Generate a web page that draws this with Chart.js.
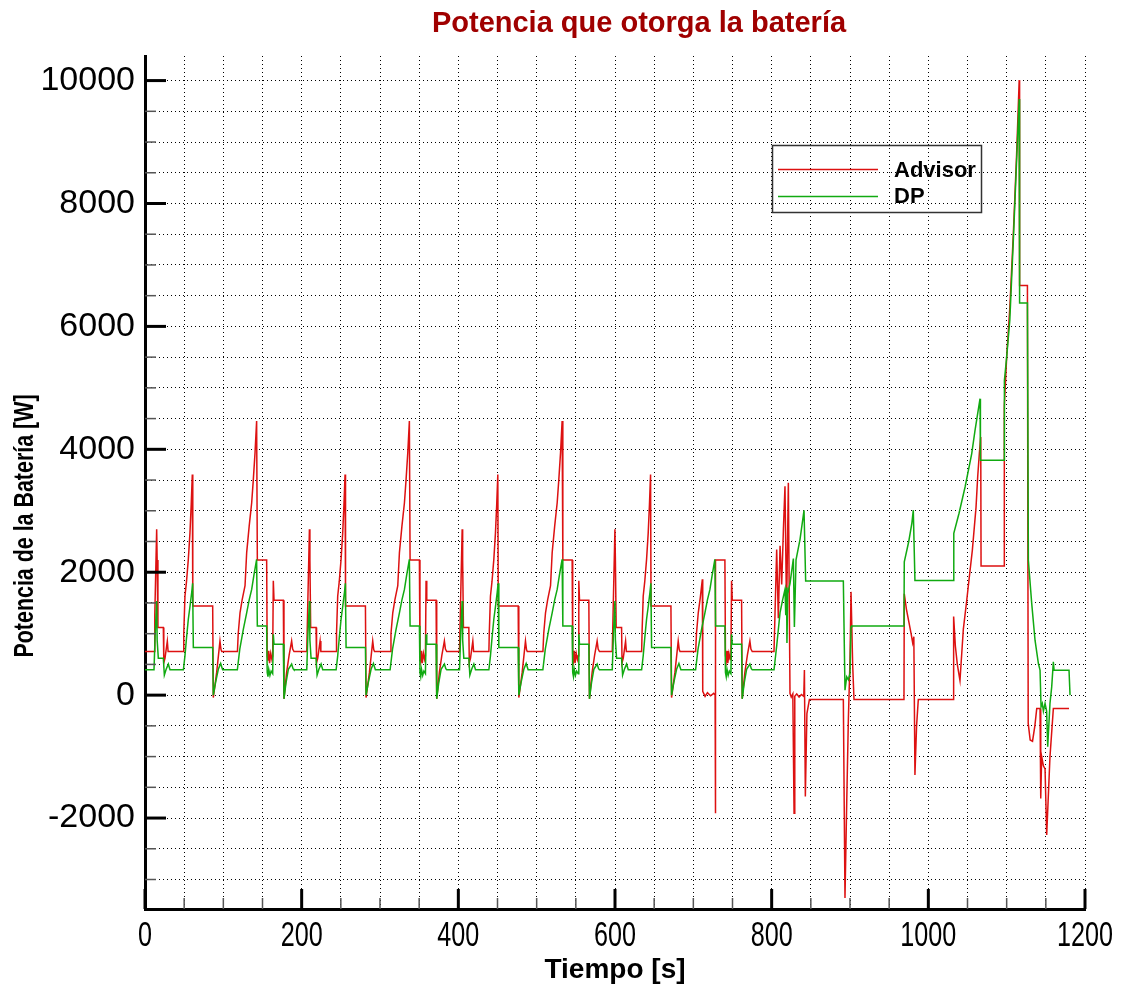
<!DOCTYPE html>
<html>
<head>
<meta charset="utf-8">
<script src="https://cdn.jsdelivr.net/npm/chart.js@4.4.1/dist/chart.umd.min.js"></script>
<style>
  html, body { margin: 0; padding: 0; background: #fff; }
  canvas { display: block; }
</style>
</head>
<body>
<canvas id="chart" width="1127" height="991"></canvas>
<script>
// Series: [tiempo (s), potencia (W)]
const seriesNames = ['Advisor', 'DP'];

const advisor = [
  [0,710],[11.5,710],[12.5,1300],[14.9,2700],[15.5,2200],[16.5,1100],[23.4,1100],[24,530],[25.5,600],[28.5,880],[29.5,710],
  [49,710],[49.5,1000],[51,1610],[53,1850],[55.3,2210],[57.4,2640],[59,3100],[60.4,3590],[61,1450],[86.4,1450],[87.2,-40],
  [91.5,370],[95.7,880],[97,740],[98,710],[118,710],[119,1000],[121.3,1340],[124,1550],[127.7,1780],[129.8,2320],[133,2750],
  [136.2,3130],[138.3,3510],[140.5,3950],[142.5,4460],[143.4,2200],[155.3,2200],[156,650],[157,560],[158,720],[159,520],
  [160.5,680],[162,580],[163,640],[163.8,1860],[164.7,1544],[176.6,1544],[177.4,-60],[180.8,370],[184,650],[187.2,880],
  [188.5,750],[190.2,710],
  [206.5,710],[207.5,1300],[209.9,2700],[210.5,2200],[211.5,1100],[218.4,1100],[219,530],[220.5,600],[223.5,880],[224.5,710],
  [244,710],[244.5,1000],[246,1610],[248,1850],[250.3,2210],[252.4,2640],[254,3100],[255.4,3590],[256,1450],[281.4,1450],
  [282.2,-40],[286.5,370],[290.7,880],[292,740],[293,710],[313,710],[314,1000],[316.3,1340],[319,1550],[322.7,1780],
  [324.8,2320],[328,2750],[331.2,3130],[333.3,3510],[335.5,3950],[337.5,4460],[338.4,2200],[350.3,2200],[351,650],[352,560],
  [353,720],[354,520],[355.5,680],[357,580],[358,640],[358.8,1860],[359.7,1544],[371.6,1544],[372.4,-60],[375.8,370],
  [379,650],[382.2,880],[383.5,750],[385.2,710],
  [401.5,710],[402.5,1300],[404.9,2700],[405.5,2200],[406.5,1100],[413.4,1100],[414,530],[415.5,600],[418.5,880],[419.5,710],
  [439,710],[439.5,1000],[441,1610],[443,1850],[445.3,2210],[447.4,2640],[449,3100],[450.4,3590],[451,1450],[476.4,1450],
  [477.2,-40],[481.5,370],[485.7,880],[487,740],[488,710],[508,710],[509,1000],[511.3,1340],[514,1550],[517.7,1780],
  [519.8,2320],[523,2750],[526.2,3130],[528.3,3510],[530.5,3950],[532.5,4460],[533.4,2200],[545.3,2200],[546,650],[547,560],
  [548,720],[549,520],[550.5,680],[552,580],[553,640],[553.8,1860],[554.7,1544],[566.6,1544],[567.4,-60],[570.8,370],
  [574,650],[577.2,880],[578.5,750],[580.2,710],
  [596.5,710],[597.5,1300],[599.9,2700],[600.5,2200],[601.5,1100],[608.4,1100],[609,530],[610.5,600],[613.5,880],[614.5,710],
  [634,710],[634.5,1000],[636,1610],[638,1850],[640.3,2210],[642.4,2640],[644,3100],[645.4,3590],[646,1450],[671.4,1450],
  [672.2,-40],[676.5,370],[680.7,880],[682,740],[683,710],[703,710],[704,1000],[706.3,1340],[709,1600],[711.5,1885],
  [712,60],[715,-20],[718,40],[722,-10],[726,30],[727.8,0],[728.1,-1920],[728.5,2200],[740.3,2200],[741,650],[742,560],
  [743,720],[744,520],[745.5,680],[747,580],[748,640],[748.8,1860],[749.7,1544],[761.6,1544],[762.4,-60],[765.8,370],
  [769,650],[772.2,880],[773.5,750],[775.2,710],
  [803,710],[804.3,1340],[806.4,2370],[808.5,1250],[810.7,2430],[812.8,1800],[815,2700],[817,3400],[819,1340],[821.3,3455],
  [823.4,30],[825,-30],[827,20],[828.6,-1920],[829.5,-20],[832,20],[835,-30],[838,10],[841,-20],[841.8,410],[843,-1650],
  [845,-300],[848.2,-70],[891.5,-70],[893.6,-3300],[895.8,-1760],[897.9,-400],[900,570],[901.3,1680],[903.4,500],[905.1,-70],
  [968.9,-70],[969.3,1650],[972,1400],[975,1200],[978,1000],[980,850],[981.5,950],[982.9,-1300],[985,-500],[987.2,-70],
  [1031.9,-70],[1032.3,1280],[1034.5,800],[1037,500],[1040.4,240],[1044.7,1075],[1049,1540],[1052.4,1930],[1056.2,2360],
  [1060.9,3060],[1063,3550],[1065.1,3930],[1066.9,4200],[1067.3,2100],[1096.6,2100],[1097,4700],[1100,5500],[1104,6300],
  [1108.5,7500],[1112.7,8800],[1116,10010],[1116.5,6667],[1126.5,6667],[1127.5,-460],[1130,-730],[1133,-750],[1136,-500],
  [1138.4,-217],[1142.6,-217],[1143.5,-1680],[1144.7,-1000],[1146.9,-1150],[1149,-1200],[1151.1,-2276],[1155.3,-1000],
  [1159.6,-217],[1179.6,-217]
];

const dp = [
  [0,412],[11.5,412],[13,1000],[14.9,1530],[15.5,900],[17,600],[23.4,600],[24.7,325],[27,420],[29.8,505],[31.9,412],
  [49,412],[51,640],[53,930],[55.3,1235],[57.5,1450],[59.6,1670],[60.8,1820],[61.7,775],[86.4,775],[87.2,0],[90,200],
  [93.6,420],[96.6,515],[99.1,412],[117.9,412],[121,750],[125.5,1070],[129.8,1340],[133,1550],[136.2,1720],[139,1950],
  [142.5,2210],[143.4,1127],[155.3,1127],[156,370],[157,300],[158,420],[159.5,320],[161,390],[163,350],[163.8,990],
  [164.7,829],[176.6,829],[177.4,-60],[180,200],[183,420],[187.2,505],[189,430],[190.2,412],
  [206.5,412],[208,1000],[209.9,1530],[210.5,900],[212,600],[218.4,600],[219.7,325],[222,420],[224.8,505],[226.9,412],
  [244,412],[246,640],[248,930],[250.3,1235],[252.5,1450],[254.6,1670],[255.8,1820],[256.7,775],[281.4,775],[282.2,0],
  [285,200],[288.6,420],[291.6,515],[294.1,412],[312.9,412],[316,750],[320.5,1070],[324.8,1340],[328,1550],[331.2,1720],
  [334,1950],[337.5,2210],[338.4,1127],[350.3,1127],[351,370],[352,300],[353,420],[354.5,320],[356,390],[358,350],
  [358.8,990],[359.7,829],[371.6,829],[372.4,-60],[375,200],[378,420],[382.2,505],[384,430],[385.2,412],
  [401.5,412],[403,1000],[404.9,1530],[405.5,900],[407,600],[413.4,600],[414.7,325],[417,420],[419.8,505],[421.9,412],
  [439,412],[441,640],[443,930],[445.3,1235],[447.5,1450],[449.6,1670],[450.8,1820],[451.7,775],[476.4,775],[477.2,0],
  [480,200],[483.6,420],[486.6,515],[489.1,412],[507.9,412],[511,750],[515.5,1070],[519.8,1340],[523,1550],[526.2,1720],
  [529,1950],[532.5,2210],[533.4,1127],[545.3,1127],[546,370],[547,300],[548,420],[549.5,320],[551,390],[553,350],
  [553.8,990],[554.7,829],[566.6,829],[567.4,-60],[570,200],[573,420],[577.2,505],[579,430],[580.2,412],
  [596.5,412],[598,1000],[599.9,1530],[600.5,900],[602,600],[608.4,600],[609.7,325],[612,420],[614.8,505],[616.9,412],
  [634,412],[636,640],[638,930],[640.3,1235],[642.5,1450],[644.6,1670],[645.8,1820],[646.7,775],[671.4,775],[672.2,0],
  [675,200],[678.6,420],[681.6,515],[684.1,412],[702.9,412],[706,750],[710.5,1070],[714.8,1340],[718,1550],[721.2,1720],
  [724,1950],[727.5,2210],[728.4,1127],[740.3,1127],[741,370],[742,300],[743,420],[744.5,320],[746,390],[748,350],
  [748.8,990],[749.7,829],[761.6,829],[762.4,-60],[765,200],[768,420],[772.2,505],[774,430],[775.2,412],
  [803,412],[806.4,800],[810.7,1343],[814,1550],[817,1720],[818,1300],[819,1750],[819.5,850],[820.5,1650],[823.4,1816],
  [827.7,2223],[829,1110],[831.1,2200],[836.2,2535],[841.3,3008],[843.4,1858],[891.5,1858],[893.6,81],[895.8,298],
  [897.9,250],[900,352],[901.3,1110],[902.1,1127],[968.9,1127],[969.3,2170],[975,2500],[979,2800],[980.8,3010],
  [982.9,1867],[1032,1867],[1032.5,2634],[1039.2,2959],[1046.9,3387],[1055.4,3930],[1059.6,4309],[1066,4824],
  [1066.5,3821],[1096.6,3821],[1097.1,5120],[1100,5500],[1104,6100],[1108.5,7400],[1112.7,8700],[1116,9700],
  [1116.5,6380],[1126.5,6380],[1127.7,2195],[1132,1490],[1136.2,894],[1140.5,515],[1142.6,406],[1143.9,-190],
  [1145.5,-135],[1146.9,-260],[1149,-135],[1151,-260],[1152.4,-840],[1155.3,-135],[1157.5,135],[1159.6,541],
  [1160.5,406],[1179.6,406],[1180.9,0]
];

const xLabels = [0, 200, 400, 600, 800, 1000, 1200];
const yLabels = [-2000, 0, 2000, 4000, 6000, 8000, 10000];
// grid / tick positions (every 500 W)
const yGrid = [-3000, -2500, -2000, -1500, -1000, -500, 0, 500, 1000, 1500, 2000, 2500, 3000, 3500, 4000,
  4500, 5000, 5500, 6000, 6500, 7000, 7500, 8000, 8500, 9000, 9500, 10000];

const SANS = "'Liberation Sans', Arial, sans-serif";

Chart.defaults.font.family = SANS;
Chart.defaults.color = '#000';

const toPoints = arr => arr.map(p => ({ x: p[0], y: p[1] }));

// titles, legend box, narrow x labels and inward ticks
const decor = {
  id: 'decor',
  afterDraw(chart) {
    const { ctx, chartArea: a, scales: { x, y } } = chart;
    ctx.save();

    y.ticks.forEach(t => {
      const py = y.getPixelForValue(t.value);
      const major = yLabels.includes(t.value);
      ctx.strokeStyle = major ? '#000' : '#555';
      ctx.lineWidth = major ? 3 : 1.5;
      ctx.beginPath();
      ctx.moveTo(a.left, py);
      ctx.lineTo(a.left + (major ? 21 : 11), py);
      ctx.stroke();
    });
    x.ticks.forEach(t => {
      const px = x.getPixelForValue(t.value);
      const major = xLabels.includes(t.value);
      ctx.strokeStyle = major ? '#000' : '#555';
      ctx.lineWidth = major ? 3 : 1.5;
      ctx.beginPath();
      ctx.moveTo(px, a.bottom);
      ctx.lineTo(px, a.bottom - (major ? 20 : 11));
      ctx.stroke();
    });

    // x tick labels, condensed like the original
    ctx.fillStyle = '#000';
    ctx.font = '35px ' + SANS;
    ctx.textAlign = 'center';
    ctx.textBaseline = 'alphabetic';
    xLabels.forEach(v => {
      ctx.save();
      ctx.translate(x.getPixelForValue(v), a.bottom + 37);
      ctx.scale(0.72, 1);
      ctx.fillText(String(v), 0, 0);
      ctx.restore();
    });

    // legend
    ctx.strokeStyle = '#333';
    ctx.lineWidth = 1.5;
    ctx.strokeRect(772.5, 145.5, 209, 67);
    const ds = chart.data.datasets;
    [[169.5, 171], [196.5, 197]].forEach((pos, i) => {
      ctx.strokeStyle = ds[i].borderColor;
      ctx.lineWidth = 1.5;
      ctx.beginPath();
      ctx.moveTo(778, pos[0]);
      ctx.lineTo(878, pos[0]);
      ctx.stroke();
      ctx.fillStyle = '#000';
      ctx.font = 'bold 22px ' + SANS;
      ctx.textAlign = 'left';
      ctx.textBaseline = 'middle';
      ctx.fillText(ds[i].label, 894, pos[1]);
    });

    // chart title
    ctx.fillStyle = '#a00000';
    ctx.font = 'bold 29px ' + SANS;
    ctx.textAlign = 'center';
    ctx.textBaseline = 'middle';
    ctx.fillText('Potencia que otorga la batería', 639, 24);

    // y axis title
    ctx.fillStyle = '#000';
    ctx.font = 'bold 28px ' + SANS;
    ctx.translate(25, 526);
    ctx.rotate(-Math.PI / 2);
    ctx.scale(0.765, 1);
    ctx.fillText('Potencia de la Batería [W]', 0, 0);

    ctx.restore();
  }
};

new Chart(document.getElementById('chart'), {
  type: 'line',
  data: {
    datasets: [
      { label: seriesNames[0], data: toPoints(advisor), borderColor: '#dd1111', borderWidth: 1.5, order: 1 },
      { label: seriesNames[1], data: toPoints(dp), borderColor: '#11aa11', borderWidth: 1.5, order: 0 }
    ]
  },
  options: {
    responsive: false,
    animation: false,
    elements: { point: { radius: 0 }, line: { tension: 0 } },
    layout: { padding: { left: 0, right: 42, top: 56, bottom: 0 } },
    plugins: { legend: { display: false }, title: { display: false }, tooltip: { enabled: false } },
    scales: {
      x: {
        type: 'linear',
        min: 0,
        max: 1200,
        afterFit: s => { s.height = 82; },
        ticks: { stepSize: 50, autoSkip: false, display: false },
        grid: { color: '#000', lineWidth: 1, drawTicks: false },
        border: { display: true, width: 3, color: '#000', dash: [1, 3] },
        title: {
          display: true,
          text: 'Tiempo [s]',
          font: { size: 28, weight: 'bold' },
          padding: { top: 0, bottom: 4 }
        }
      },
      y: {
        type: 'linear',
        min: -3480,
        max: 10400,
        afterFit: s => { s.width = 145; },
        afterBuildTicks: s => { s.ticks = yGrid.map(v => ({ value: v })); },
        ticks: {
          autoSkip: false,
          padding: 10,
          font: { size: 34 },
          callback: v => yLabels.includes(v) ? String(v) : ''
        },
        grid: { color: '#000', lineWidth: 1, drawTicks: false },
        border: { display: true, width: 3, color: '#000', dash: [1, 3] }
      }
    }
  },
  plugins: [decor]
});
</script>
</body>
</html>
